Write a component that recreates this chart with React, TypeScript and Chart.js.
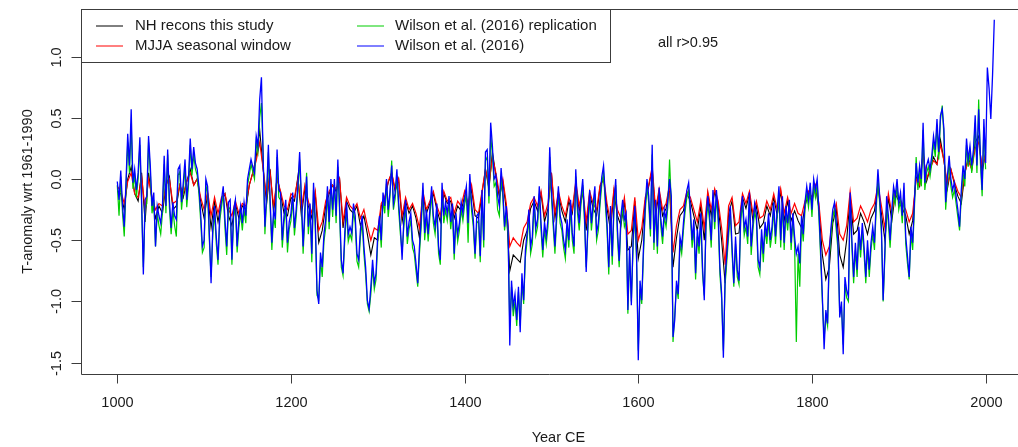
import React, { useEffect, useRef } from "react";
import { Chart, registerables } from "chart.js";

Chart.register(...registerables);

// Values. Wilson et al. series on a 2-year grid (1000-2010),
// this study's reconstructions on a 4-year grid (1000-2012).
const WILSON_FIRST_YEAR = 1000;
const WILSON_STEP = 2;
const RECONS_FIRST_YEAR = 1000;
const RECONS_STEP = 4;

const NH_RECONS: (number | null)[] = [
  -0.10, -0.12, -0.25, 0.00, 0.10, -0.12, -0.18, 0.05, -0.35, 0.05,
  -0.18, -0.32, -0.22, -0.28, -0.05, 0.02, -0.25, -0.22, -0.05, -0.15,
  -0.02, 0.08, -0.05, 0.00, -0.18, -0.32, -0.12, -0.40, -0.18, -0.35,
  -0.18, -0.12, -0.30, -0.38, -0.20, -0.32, -0.22, -0.25, -0.05, 0.05,
  0.18, 0.40, 0.08, -0.20, 0.08, -0.28, 0.02, -0.12, -0.28, -0.30,
  -0.15, -0.18, 0.02, -0.30, -0.08, -0.22, -0.32, -0.12, -0.52, -0.42,
  -0.22, -0.12, -0.05, -0.10, 0.00, -0.40, -0.18, -0.25, -0.28, -0.22,
  -0.38, -0.30, -0.45, -0.62, -0.48, -0.50, -0.22, -0.16, -0.03, 0.05,
  -0.10, 0.00, -0.35, -0.18, -0.28, -0.22, -0.32, -0.48, -0.12, -0.28,
  -0.20, -0.12, -0.25, -0.35, -0.12, -0.20, -0.18, -0.32, -0.22, -0.26,
  -0.14, -0.24, -0.08, -0.30, -0.32, -0.12, 0.08, -0.08, 0.22, 0.03,
  -0.15, -0.02, -0.25, -0.75, -0.62, -0.65, -0.68, -0.50, -0.42, -0.24,
  -0.18, -0.26, -0.12, -0.35, -0.24, 0.05, -0.32, -0.12, -0.26, -0.35,
  -0.18, -0.28, -0.04, -0.26, -0.10, -0.42, -0.12, -0.24, -0.30, -0.06,
  0.00, -0.24, -0.42, -0.10, -0.30, -0.38, -0.18, -0.58, -0.55, -0.18,
  -0.65, -0.50, -0.18, -0.06, 0.08, -0.30, -0.10, -0.30, -0.24, -0.06,
  -0.72, -0.48, -0.30, -0.26, -0.12, -0.18, -0.30, -0.42, -0.22, -0.50,
  -0.12, -0.30, -0.10, -0.22, -0.50, -0.85, -0.28, -0.18, -0.45, -0.44,
  -0.15, -0.24, -0.12, -0.34, -0.22, -0.40, -0.36, -0.22, -0.30, -0.15,
  -0.30, -0.10, -0.34, -0.18, -0.34, -0.26, -0.34, -0.40, -0.22, -0.12,
  -0.18, -0.06, -0.24, -0.62, -0.82, -0.72, -0.36, -0.24, -0.62, -0.72,
  -0.50, -0.14, -0.45, -0.42, -0.28, -0.35, -0.45, -0.32, -0.26, -0.06,
  -0.28, -0.50, -0.15, -0.34, -0.12, -0.18, -0.24, -0.30, -0.45, -0.34,
  0.02, -0.06, 0.22, -0.02, 0.08, 0.18, 0.12, 0.32, 0.15, -0.08,
  0.08, -0.04, -0.14, -0.20, 0.04, 0.18, 0.08, 0.30, 0.35, 0.05,
  0.22, null, null, null,
];

const MJJA_WINDOW: (number | null)[] = [
  -0.06, -0.10, -0.20, -0.02, 0.05, -0.12, -0.15, 0.02, -0.25, 0.00,
  -0.15, -0.25, -0.20, -0.22, -0.05, 0.00, -0.20, -0.18, -0.05, -0.12,
  -0.02, 0.05, -0.05, 0.00, -0.15, -0.25, -0.10, -0.30, -0.15, -0.28,
  -0.15, -0.12, -0.25, -0.30, -0.18, -0.28, -0.20, -0.22, -0.05, 0.05,
  0.15, 0.30, 0.08, -0.15, 0.05, -0.22, 0.00, -0.10, -0.22, -0.25,
  -0.12, -0.15, 0.00, -0.25, -0.05, -0.18, -0.28, -0.10, -0.42, -0.35,
  -0.18, -0.10, -0.05, -0.08, 0.00, -0.35, -0.15, -0.22, -0.25, -0.20,
  -0.32, -0.25, -0.38, -0.50, -0.40, -0.42, -0.20, -0.15, -0.02, 0.05,
  -0.08, 0.00, -0.30, -0.15, -0.25, -0.20, -0.28, -0.40, -0.10, -0.25,
  -0.18, -0.10, -0.22, -0.30, -0.10, -0.18, -0.15, -0.28, -0.18, -0.22,
  -0.10, -0.20, -0.05, -0.25, -0.28, -0.10, 0.08, -0.05, 0.18, 0.05,
  -0.12, 0.00, -0.20, -0.55, -0.48, -0.52, -0.55, -0.40, -0.35, -0.20,
  -0.15, -0.22, -0.10, -0.30, -0.20, 0.05, -0.28, -0.10, -0.22, -0.30,
  -0.15, -0.25, -0.02, -0.22, -0.08, -0.35, -0.10, -0.20, -0.25, -0.05,
  0.02, -0.20, -0.35, -0.08, -0.25, -0.32, -0.15, -0.45, -0.42, -0.15,
  -0.50, -0.40, -0.15, -0.05, 0.10, -0.25, -0.08, -0.25, -0.20, -0.05,
  -0.60, -0.38, -0.25, -0.22, -0.10, -0.15, -0.25, -0.35, -0.18, -0.40,
  -0.10, -0.25, -0.08, -0.18, -0.40, -0.70, -0.22, -0.15, -0.38, -0.35,
  -0.12, -0.20, -0.10, -0.28, -0.18, -0.32, -0.30, -0.18, -0.25, -0.12,
  -0.25, -0.08, -0.28, -0.15, -0.28, -0.20, -0.28, -0.30, -0.18, -0.10,
  -0.15, -0.05, -0.20, -0.50, -0.62, -0.55, -0.30, -0.20, -0.45, -0.50,
  -0.38, -0.10, -0.35, -0.32, -0.22, -0.28, -0.35, -0.25, -0.20, -0.05,
  -0.22, -0.40, -0.12, -0.28, -0.10, -0.15, -0.20, -0.25, -0.35, -0.28,
  0.00, -0.05, 0.20, 0.00, 0.08, 0.15, 0.12, 0.28, 0.15, -0.05,
  0.08, -0.02, -0.10, -0.15, 0.05, 0.15, 0.08, 0.25, 0.30, 0.10,
  0.20, null, null, null,
];

const WILSON_REPLICATION: (number | null)[] = [
  -0.05, -0.30, 0.02, -0.28, -0.47, -0.08, 0.30, 0.05, 0.45, -0.08,
  0.03, -0.15, 0.00, 0.28, -0.22, -0.72, -0.23, -0.20, 0.30, 0.05,
  -0.28, -0.17, -0.55, -0.28, -0.38, -0.45, -0.28, 0.12, -0.28, 0.20,
  -0.23, -0.45, -0.25, -0.38, -0.47, 0.03, 0.06, -0.25, -0.09, 0.10,
  -0.23, -0.05, 0.28, 0.03, 0.20, 0.08, 0.03, -0.12, -0.34, -0.60,
  -0.56, -0.05, -0.12, -0.50, -0.80, -0.45, -0.28, -0.53, -0.70, -0.34,
  -0.23, -0.12, -0.40, -0.62, -0.25, -0.23, -0.70, -0.31, -0.23, -0.60,
  -0.40, -0.28, -0.42, -0.25, -0.36, -0.05, 0.03, 0.12, 0.06, 0.00,
  0.30, 0.22, 0.50, 0.62, 0.20, -0.45, -0.17, 0.22, -0.23, -0.58,
  -0.31, -0.40, 0.18, -0.15, -0.17, -0.56, -0.36, -0.23, -0.60, -0.41,
  -0.34, -0.17, -0.46, -0.31, -0.10, 0.16, -0.20, -0.61, -0.31, 0.05,
  -0.45, -0.26, -0.68, -0.09, -0.40, -0.95, -0.98, -0.66, -0.80, -0.51,
  -0.40, -0.12, -0.41, -0.05, -0.31, -0.05, -0.36, 0.10, -0.28, -0.72,
  -0.79, -0.50, -0.25, -0.51, -0.45, -0.50, -0.26, -0.36, -0.67, -0.72,
  -0.47, -0.36, -0.61, -0.78, -1.02, -1.08, -0.94, -0.72, -0.90, -0.82,
  -0.50, -0.36, -0.56, -0.17, -0.28, -0.04, -0.31, -0.15, 0.15, -0.25,
  -0.16, 0.03, -0.25, -0.45, -0.60, -0.39, -0.23, -0.53, -0.41, -0.34,
  -0.56, -0.61, -0.75, -0.88, -0.61, -0.39, -0.09, -0.50, -0.31, -0.51,
  -0.31, -0.12, -0.36, -0.45, -0.26, -0.61, -0.70, -0.09, -0.36, -0.25,
  -0.34, -0.20, -0.41, -0.26, -0.66, -0.34, -0.51, -0.42, -0.25, -0.34,
  -0.21, -0.12, -0.52, -0.02, -0.26, -0.39, -0.65, -0.36, -0.34, -0.68,
  -0.15, -0.56, 0.15, 0.18, -0.20, 0.35, 0.20, -0.06, -0.03, -0.25,
  -0.30, 0.02, -0.15, -0.42, -0.28, -0.45, -1.20, -0.88, -1.12, -1.00,
  -1.20, -0.92, -1.20, -0.85, -1.02, -0.64, -0.50, -0.31, -0.61, -0.53,
  -0.20, -0.46, -0.39, -0.12, -0.42, -0.64, -0.41, -0.53, -0.39, 0.18,
  -0.15, -0.39, -0.61, -0.34, -0.12, -0.36, -0.42, -0.56, -0.65, -0.39,
  -0.56, -0.23, -0.50, -0.61, 0.02, -0.28, -0.42, -0.21, -0.05, -0.34,
  -0.72, -0.42, -0.15, -0.42, -0.26, -0.12, -0.50, -0.42, -0.21, -0.04,
  0.05, -0.20, -0.42, -0.78, -0.28, -0.70, -0.26, -0.05, -0.48, -0.72,
  -0.36, -0.23, -0.39, -0.34, -1.10, -0.61, -1.00, -0.56, -0.28, -0.67,
  -1.40, -0.90, -1.02, -0.61, -0.28, -0.05, -0.20, -0.47, 0.20, -0.58,
  -0.23, -0.61, -0.12, -0.39, -0.53, -0.31, -0.39, -0.23, 0.16, -0.20,
  -1.33, -1.10, -0.88, -0.98, -0.53, -0.61, -0.42, -0.26, -0.15, -0.09,
  -0.31, -0.56, -0.39, -0.82, -0.47, -0.61, -0.34, -0.78, -0.95, -0.39,
  -0.20, -0.34, -0.56, -0.15, -0.41, -0.15, -0.34, -0.78, -0.98, -1.40,
  -0.86, -0.67, -0.47, -0.28, -0.61, -0.88, -0.53, -0.80, -0.86, -0.34,
  -0.20, -0.46, -0.39, -0.53, -0.17, -0.62, -0.42, -0.26, -0.34, -0.72,
  -0.78, -0.47, -0.68, -0.41, -0.53, -0.34, -0.56, -0.45, -0.25, -0.53,
  -0.31, -0.12, -0.56, -0.20, -0.58, -0.28, -0.42, -0.23, -0.58, -0.34,
  -0.53, -1.33, -0.61, -0.88, -0.36, -0.51, -0.25, -0.12, -0.23, -0.09,
  -0.31, -0.05, -0.15, -0.05, -0.31, -0.64, -1.00, -1.30, -1.12, -1.20,
  -0.64, -0.45, -0.31, -0.25, -0.42, -0.58, -1.10, -1.05, -1.35, -0.86,
  -0.97, -1.00, -0.17, -0.56, -0.85, -0.58, -0.80, -0.45, -0.64, -0.42,
  -0.61, -0.85, -0.56, -0.80, -0.58, -0.45, -0.58, -0.25, 0.00, -0.20,
  -0.45, -1.00, -0.64, -0.20, -0.36, -0.56, -0.31, -0.12, -0.20, -0.05,
  -0.25, -0.17, -0.36, -0.09, -0.53, -0.69, -0.82, -0.45, -0.58, -0.25,
  0.18, -0.09, 0.05, -0.06, 0.40, -0.09, 0.05, 0.10, 0.02, 0.13,
  0.30, 0.18, 0.44, 0.16, 0.48, 0.60, 0.35, -0.25, -0.04, 0.14,
  -0.06, -0.15, -0.09, -0.20, -0.31, -0.42, -0.15, 0.05, -0.06, 0.28,
  0.10, 0.22, 0.05, 0.18, 0.46, 0.05, 0.65, 0.13, -0.14, 0.42,
  0.08, null, null, null, null, null,
];

const WILSON_2016: (number | null)[] = [
  -0.02, -0.17, 0.07, -0.22, -0.39, -0.03, 0.37, 0.11, 0.57, -0.03,
  0.08, -0.09, 0.05, 0.34, -0.17, -0.78, -0.17, -0.14, 0.35, 0.11,
  -0.22, -0.11, -0.55, -0.22, -0.30, -0.36, -0.22, 0.19, -0.22, 0.24,
  -0.17, -0.40, -0.19, -0.30, -0.33, 0.08, 0.11, -0.19, -0.03, 0.16,
  -0.17, 0.00, 0.33, 0.08, 0.26, 0.13, 0.08, -0.06, -0.28, -0.55,
  -0.50, 0.00, -0.06, -0.44, -0.85, -0.39, -0.22, -0.47, -0.66, -0.28,
  -0.17, -0.06, -0.33, -0.55, -0.19, -0.17, -0.66, -0.25, -0.17, -0.55,
  -0.33, -0.22, -0.36, -0.19, -0.30, 0.00, 0.08, 0.16, 0.10, 0.05,
  0.35, 0.27, 0.65, 0.83, 0.16, -0.39, -0.11, 0.28, -0.17, -0.52,
  -0.25, -0.33, 0.24, -0.09, -0.11, -0.50, -0.30, -0.17, -0.52, -0.35,
  -0.28, -0.11, -0.40, -0.25, -0.05, 0.22, -0.14, -0.55, -0.25, 0.02,
  -0.39, -0.20, -0.61, -0.03, -0.33, -0.91, -1.02, -0.60, -0.72, -0.45,
  -0.33, -0.06, -0.35, 0.00, -0.25, 0.00, -0.30, 0.16, -0.22, -0.66,
  -0.77, -0.44, -0.19, -0.45, -0.39, -0.44, -0.20, -0.30, -0.61, -0.66,
  -0.41, -0.30, -0.55, -0.72, -0.99, -1.06, -0.88, -0.66, -0.85, -0.77,
  -0.44, -0.30, -0.50, -0.11, -0.22, 0.00, -0.25, -0.11, 0.11, -0.20,
  -0.11, 0.08, -0.19, -0.39, -0.66, -0.33, -0.17, -0.47, -0.35, -0.28,
  -0.50, -0.55, -0.69, -0.85, -0.55, -0.33, -0.03, -0.44, -0.25, -0.45,
  -0.25, -0.06, -0.30, -0.39, -0.20, -0.55, -0.66, -0.03, -0.30, -0.19,
  -0.28, -0.14, -0.35, -0.20, -0.61, -0.28, -0.45, -0.36, -0.19, -0.28,
  -0.15, -0.06, -0.36, 0.04, -0.20, -0.33, -0.61, -0.30, -0.28, -0.63,
  -0.09, -0.50, 0.22, 0.24, -0.14, 0.46, 0.27, 0.00, 0.03, -0.14,
  -0.22, 0.09, -0.09, -0.39, -0.22, -0.39, -1.36, -0.83, -1.04, -0.94,
  -1.15, -0.88, -1.25, -0.77, -0.99, -0.58, -0.44, -0.25, -0.55, -0.47,
  -0.14, -0.40, -0.33, -0.06, -0.36, -0.58, -0.35, -0.47, -0.33, 0.26,
  -0.09, -0.33, -0.55, -0.28, -0.06, -0.30, -0.36, -0.50, -0.58, -0.33,
  -0.50, -0.17, -0.44, -0.55, 0.08, -0.22, -0.36, -0.15, 0.00, -0.28,
  -0.76, -0.36, -0.09, -0.36, -0.20, -0.06, -0.44, -0.36, -0.15, 0.02,
  0.11, -0.14, -0.36, -0.72, -0.22, -0.63, -0.20, 0.00, -0.41, -0.67,
  -0.30, -0.17, -0.33, -0.28, -1.07, -0.55, -1.03, -0.50, -0.22, -0.61,
  -1.48, -0.83, -0.99, -0.55, -0.22, 0.00, -0.14, -0.41, 0.28, -0.52,
  -0.17, -0.55, -0.07, -0.33, -0.47, -0.25, -0.33, -0.17, 0.00, -0.14,
  -1.29, -1.15, -0.83, -0.94, -0.47, -0.55, -0.36, -0.20, -0.09, -0.03,
  -0.25, -0.50, -0.33, -0.77, -0.41, -0.55, -0.28, -0.72, -0.99, -0.33,
  -0.14, -0.28, -0.50, -0.09, -0.35, -0.09, -0.28, -0.72, -0.94, -1.46,
  -0.80, -0.61, -0.41, -0.22, -0.55, -0.85, -0.47, -0.74, -0.83, -0.28,
  -0.14, -0.40, -0.33, -0.47, -0.11, -0.55, -0.36, -0.20, -0.28, -0.66,
  -0.72, -0.41, -0.61, -0.35, -0.47, -0.28, -0.50, -0.39, -0.19, -0.47,
  -0.25, -0.06, -0.50, -0.14, -0.52, -0.22, -0.36, -0.17, -0.52, -0.28,
  -0.47, -0.61, -0.55, -0.69, -0.30, -0.45, -0.19, -0.06, -0.17, -0.03,
  -0.25, 0.00, -0.09, 0.00, -0.25, -0.58, -0.96, -1.39, -1.07, -1.18,
  -0.58, -0.39, -0.25, -0.19, -0.36, -0.52, -1.13, -1.00, -1.43, -0.80,
  -0.91, -0.96, -0.11, -0.50, -0.80, -0.52, -0.74, -0.39, -0.58, -0.36,
  -0.55, -0.80, -0.50, -0.74, -0.52, -0.39, -0.52, -0.19, 0.08, -0.14,
  -0.39, -0.99, -0.58, -0.14, -0.30, -0.50, -0.25, -0.06, -0.14, 0.00,
  -0.19, -0.11, -0.30, -0.03, -0.47, -0.63, -0.80, -0.39, -0.52, -0.19,
  0.13, -0.03, 0.11, 0.00, 0.46, -0.03, 0.11, 0.16, 0.08, 0.19,
  0.35, 0.24, 0.49, 0.22, 0.52, 0.57, 0.41, -0.19, 0.02, 0.19,
  0.00, -0.09, -0.03, -0.14, -0.25, -0.39, -0.09, 0.11, 0.00, 0.33,
  0.16, 0.27, 0.11, 0.24, 0.52, 0.11, 0.57, 0.19, -0.09, 0.49,
  0.13, 0.91, 0.74, 0.49, 0.85, 1.30,
];

const WILSON_YEARS: number[] = WILSON_2016.map((_, i) => WILSON_FIRST_YEAR + WILSON_STEP * i);
const RECONS_YEARS: number[] = NH_RECONS.map((_, i) => RECONS_FIRST_YEAR + RECONS_STEP * i);

const X_TICKS = [1000, 1200, 1400, 1600, 1800, 2000];
const Y_TICKS = [-1.5, -1.0, -0.5, 0.0, 0.5, 1.0];
const Y_TICK_LABELS = ["-1.5", "-1.0", "-0.5", "0.0", "0.5", "1.0"];

const SERIES_LABELS = [
  "NH recons this study",
  "MJJA seasonal window",
  "Wilson et al. (2016) replication",
  "Wilson et al. (2016)",
];
const SERIES_COLORS = ["#000000", "#ff0000", "#00cd00", "#0000ff"];
const SERIES_WIDTHS = [1.1, 1.2, 1.2, 1.3];

const X_TITLE = "Year CE";
const Y_TITLE = "T-anomaly wrt 1961-1990";
const NOTE = "all r>0.95";

const FONT = '14.5px "Liberation Sans", Arial, sans-serif';
const LEGEND_FONT = '15px "Liberation Sans", Arial, sans-serif';
const TEXT_COLOR = "#1a1a1a";
const AXIS_COLOR = "#3c3c3c";

function toPoints(years: number[], values: (number | null)[]) {
  return years.map((x, i) => ({ x, y: values[i] ?? null }));
}

const framePlugin = {
  id: "rFrame",
  afterDraw(chart: any) {
    const { ctx, chartArea: a, scales } = chart;
    const xs = scales.x;
    const ys = scales.y;
    const W = chart.width;
    ctx.save();
    ctx.strokeStyle = AXIS_COLOR;
    ctx.lineWidth = 1;
    const L = Math.round(a.left) - 0.5;
    const T = Math.round(a.top) + 0.5;
    const B = Math.round(a.bottom) + 0.5;
    ctx.beginPath();
    ctx.moveTo(W, T);
    ctx.lineTo(L, T);
    ctx.lineTo(L, B);
    ctx.lineTo(W, B);
    ctx.stroke();

    ctx.fillStyle = TEXT_COLOR;
    ctx.font = FONT;
    ctx.textAlign = "center";
    ctx.textBaseline = "middle";
    for (const v of X_TICKS) {
      const px = Math.round(xs.getPixelForValue(v)) + 0.5;
      ctx.beginPath();
      ctx.moveTo(px, B);
      ctx.lineTo(px, B + 9);
      ctx.stroke();
      ctx.fillText(String(v), px, B + 28);
    }
    Y_TICKS.forEach((v, i) => {
      const py = Math.round(ys.getPixelForValue(v)) + 0.5;
      ctx.beginPath();
      ctx.moveTo(L, py);
      ctx.lineTo(L - 10, py);
      ctx.stroke();
      ctx.save();
      ctx.translate(57, py);
      ctx.rotate(-Math.PI / 2);
      ctx.fillText(Y_TICK_LABELS[i], 0, 0);
      ctx.restore();
    });
    ctx.fillText(X_TITLE, xs.getPixelForValue(1508), 438);
    ctx.save();
    ctx.translate(28, (a.top + a.bottom) / 2);
    ctx.rotate(-Math.PI / 2);
    ctx.fillText(Y_TITLE, 0, 0);
    ctx.restore();

    // legend box, top-left corner of the plot
    const lx0 = L;
    const ly0 = T;
    const lx1 = 610.5;
    const ly1 = 62.5;
    ctx.fillStyle = "#ffffff";
    ctx.fillRect(lx0, ly0, lx1 - lx0, ly1 - ly0);
    ctx.strokeRect(lx0, ly0, lx1 - lx0, ly1 - ly0);
    const cols = [
      { lineX: 96, textX: 135 },
      { lineX: 357, textX: 395 },
    ];
    const rows = [26, 46];
    ctx.font = LEGEND_FONT;
    SERIES_LABELS.forEach((label, i) => {
      const c = cols[Math.floor(i / 2)];
      const ry = rows[i % 2];
      ctx.strokeStyle = SERIES_COLORS[i];
      ctx.lineWidth = 1;
      ctx.beginPath();
      ctx.moveTo(c.lineX, ry);
      ctx.lineTo(c.lineX + 27, ry);
      ctx.stroke();
      ctx.fillStyle = TEXT_COLOR;
      ctx.textAlign = "left";
      ctx.fillText(label, c.textX, ry);
    });
    ctx.font = FONT;
    ctx.textAlign = "left";
    ctx.fillText(NOTE, 658, 43);
    ctx.restore();
  },
};

export default function App() {
  const ref = useRef<HTMLCanvasElement>(null);
  useEffect(() => {
    if (!ref.current) return;
    const series = [
      { years: RECONS_YEARS, values: NH_RECONS },
      { years: RECONS_YEARS, values: MJJA_WINDOW },
      { years: WILSON_YEARS, values: WILSON_REPLICATION },
      { years: WILSON_YEARS, values: WILSON_2016 },
    ];
    const chart = new Chart(ref.current, {
      type: "line",
      data: {
        datasets: series.map((s, i) => ({
          label: SERIES_LABELS[i],
          data: toPoints(s.years, s.values),
          borderColor: SERIES_COLORS[i],
          backgroundColor: SERIES_COLORS[i],
          borderWidth: SERIES_WIDTHS[i],
          pointRadius: 0,
          tension: 0,
          spanGaps: false,
          order: 3 - i,
        })),
      },
      options: {
        animation: false,
        responsive: false,
        devicePixelRatio: 1,
        events: [],
        layout: { padding: { left: 82, right: 0, top: 9, bottom: 73 } },
        plugins: {
          legend: { display: false },
          tooltip: { enabled: false },
        },
        scales: {
          x: { type: "linear", min: 959.35, max: 2037.3, display: false },
          y: { type: "linear", min: -1.592, max: 1.388, display: false },
        },
      },
      plugins: [framePlugin],
    });
    return () => chart.destroy();
  }, []);
  return (
    <div
      style={{
        position: "absolute",
        left: 0,
        top: 0,
        width: 1018,
        height: 447,
        background: "#ffffff",
      }}
    >
      <canvas
        ref={ref}
        width={1018}
        height={447}
        style={{ display: "block", width: 1018, height: 447 }}
      />
    </div>
  );
}
